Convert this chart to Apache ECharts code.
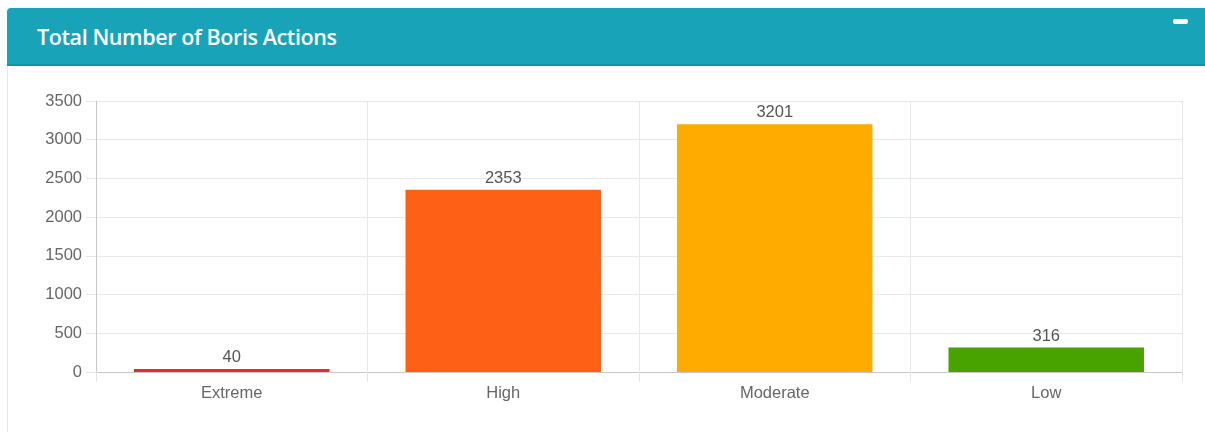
<!DOCTYPE html>
<html>
<head>
<meta charset="utf-8">
<script src="https://cdn.jsdelivr.net/npm/echarts@6/dist/echarts.min.js"></script>
<style>
  html, body { margin: 0; padding: 0; width: 1205px; height: 432px; overflow: hidden; background: #fff; }
  #panel { position: absolute; left: 7px; top: 8px; width: 1210px; height: 440px; border: 1px solid #e6e6e6; border-radius: 4px; box-sizing: border-box; background: #fff; }
  #header { position: absolute; left: 7px; top: 8px; width: 1210px; height: 58px; background: #19a3b9; border-top-left-radius: 4px; border-bottom: 2px solid #1690a4; box-sizing: border-box; }
  #title { position: absolute; left: 30px; top: 14px; color: #fff; font-family: "Open Sans", "Noto Sans", sans-serif; font-size: 21.5px; font-weight: 600; letter-spacing: -0.4px; line-height: 30px; }
  #minus { position: absolute; left: 1166px; top: 11px; width: 15px; height: 5px; background: #fff; border-radius: 2px; }
  #chart { position: absolute; left: 0; top: 66px; width: 1205px; height: 366px; }
</style>
</head>
<body>
<div id="panel"></div>
<div id="header"><div id="title">Total Number of Boris Actions</div><div id="minus"></div></div>
<div id="chart"></div>
<script>
const categories = ['Extreme', 'High', 'Moderate', 'Low'];
const values = [40, 2353, 3201, 316];
const barColors = ['#e8282b', '#fe6116', '#ffab00', '#48a300'];
const yTicks = [0, 500, 1000, 1500, 2000, 2500, 3000, 3500];

const labelFont = 'Liberation Sans, Arial, sans-serif';
const chart = echarts.init(document.getElementById('chart'));
chart.setOption({
  animation: false,
  grid: { left: 96, right: 23, top: 35, bottom: 60, containLabel: false },
  xAxis: {
    type: 'category',
    data: categories,
    boundaryGap: true,
    axisLine: { show: true, lineStyle: { color: '#c8c8c8', width: 1 } },
    axisTick: { show: true, length: 10, alignWithLabel: false, lineStyle: { color: '#e6e6e6' } },
    splitLine: { show: true, lineStyle: { color: '#e9e9e9' } },
    axisLabel: { color: '#666', fontSize: 16.5, fontFamily: labelFont, margin: 13 }
  },
  yAxis: {
    type: 'value',
    min: yTicks[0],
    max: yTicks[yTicks.length - 1],
    interval: 500,
    axisLine: { show: true, lineStyle: { color: '#c8c8c8', width: 1 } },
    axisTick: { show: true, length: 10, lineStyle: { color: '#e6e6e6' } },
    splitLine: { show: true, lineStyle: { color: '#e9e9e9' } },
    axisLabel: { color: '#666', fontSize: 16.5, fontFamily: labelFont, margin: 14, formatter: v => String(v) }
  },
  series: [{
    type: 'bar',
    data: values.map((v, i) => ({ value: v, itemStyle: { color: barColors[i] } })),
    barWidth: '72%',
    label: { show: true, position: 'top', distance: 3, color: '#555', fontSize: 16.5, fontFamily: labelFont }
  }]
});
</script>
</body>
</html>
